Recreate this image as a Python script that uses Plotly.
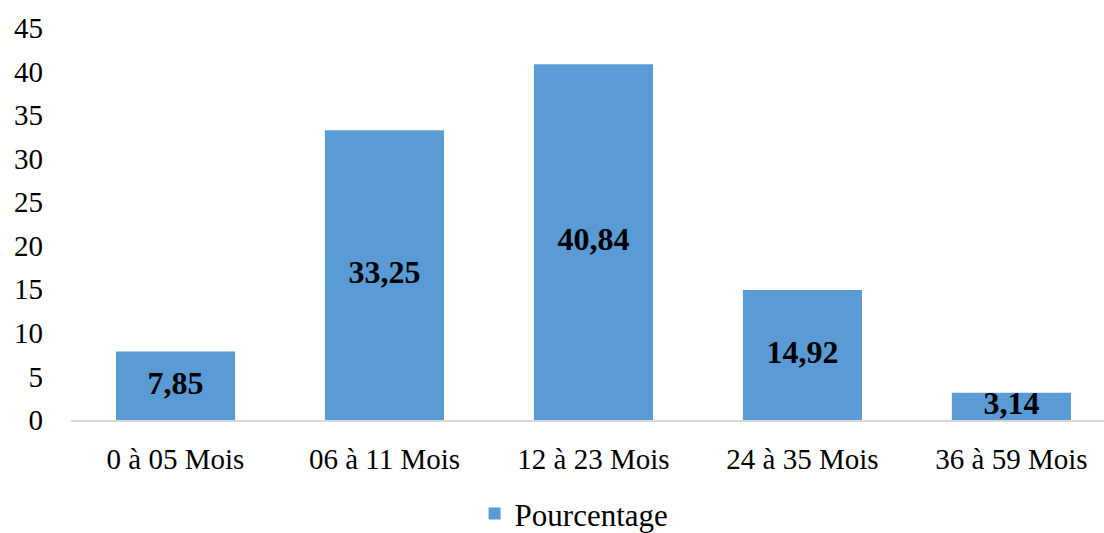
import plotly.graph_objects as go

categories = ["0 à 05 Mois", "06 à 11 Mois", "12 à 23 Mois", "24 à 35 Mois", "36 à 59 Mois"]
values = [7.85, 33.25, 40.84, 14.92, 3.14]
labels = ["7,85", "33,25", "40,84", "14,92", "3,14"]
series_name = "Pourcentage"
y_ticks = [0, 5, 10, 15, 20, 25, 30, 35, 40, 45]

FONT = "Liberation Serif, Times New Roman, serif"
BAR_COLOR = "#5B9BD5"

fig = go.Figure()
fig.add_trace(go.Bar(
    x=categories, y=values, name=series_name,
    marker=dict(color=BAR_COLOR, line=dict(width=0)),
    width=0.57,
))
# data labels centred in each bar
fig.add_trace(go.Scatter(
    x=categories, y=[v / 2 for v in values], text=labels,
    mode="text", textposition="middle center",
    textfont=dict(family=FONT, size=32, color="black", weight="bold"),
    showlegend=False, hoverinfo="skip", cliponaxis=False,
))

fig.update_layout(
    width=1104, height=533,
    margin=dict(l=71, r=0, t=28, b=113, autoexpand=False),
    plot_bgcolor="white", paper_bgcolor="white",
    font=dict(family=FONT, size=29, color="black"),
    showlegend=True,
    legend=dict(orientation="h", x=0.52, xanchor="center", xref="container",
                y=0.036, yanchor="middle", yref="container",
                font=dict(size=31), itemsizing="constant", itemwidth=30),
    xaxis=dict(range=[-0.5, 4.443], showline=True, linecolor="#D9D9D9", linewidth=2,
               ticks="", tickfont=dict(size=29), showgrid=False, fixedrange=True,
               ticklabelstandoff=12),
    yaxis=dict(range=[0, 45], tickvals=y_ticks, showgrid=False, zeroline=False,
               showline=False, ticks="", tickfont=dict(size=29), ticklabelstandoff=27,
               fixedrange=True),
)

fig.write_html("out.html")
